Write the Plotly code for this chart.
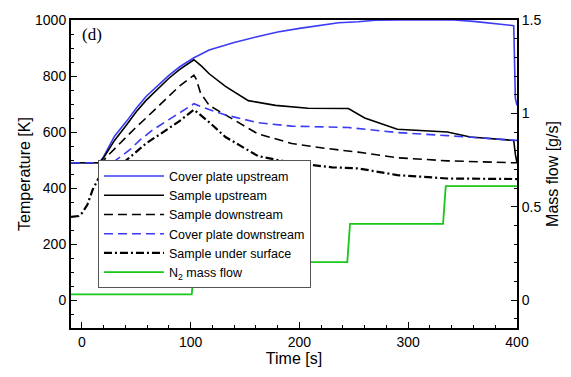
import plotly.graph_objects as go

# ---- data ----
t_cpu = [-10, 16, 20, 25, 30, 41, 50, 59, 70, 80, 90, 103, 117, 140, 162, 180, 200, 220, 236, 254, 270, 290, 342, 360, 380, 397, 398.5, 400]
T_cpu = [490, 490, 512, 550, 585, 638, 685, 727, 767, 802, 833, 865, 893, 920, 941, 957, 970, 982, 990, 994, 999, 1000, 1000, 995, 986, 980, 720, 695]

t_su = [-10, 16, 20, 25, 30, 41, 50, 59, 70, 80, 90, 103, 110, 117, 132, 153, 178, 208, 245, 260, 290, 336, 357, 382, 397, 398.5, 400]
T_su = [490, 490, 508, 540, 570, 625, 672, 713, 755, 792, 824, 858, 835, 808, 763, 712, 695, 685, 684, 650, 610, 600, 582, 576, 570, 520, 490]

t_sd = [-10, 18, 25, 30, 41, 50, 59, 70, 80, 90, 103, 105, 109, 117, 132, 162, 193, 223, 254, 290, 336, 382, 397, 400]
T_sd = [490, 490, 520, 540, 582, 618, 650, 690, 730, 765, 803, 790, 740, 695, 661, 593, 559, 542, 528, 508, 497, 490, 490, 490]

t_cpd = [-10, 28, 35, 45, 53, 65, 80, 92, 103, 117, 132, 162, 193, 245, 290, 336, 382, 397, 400]
T_cpd = [490, 490, 510, 540, 570, 607, 644, 675, 701, 680, 661, 633, 621, 616, 598, 587, 576, 572, 570]

t_sus = [-10, -3, 0, 5, 10, 15, 20, 25, 30, 38, 50, 60, 71, 80, 90, 103, 117, 132, 162, 193, 230, 254, 290, 336, 400]
T_sus = [297, 300, 310, 340, 395, 432, 450, 465, 478, 490, 530, 562, 590, 615, 640, 680, 635, 582, 514, 490, 474, 470, 446, 434, 432]

t_n2 = [-10, 101, 103.5, 244, 246.5, 332, 334.5, 400]
m_n2 = [0.03, 0.03, 0.203, 0.203, 0.408, 0.408, 0.61, 0.61]

BLUE = "#3b3bf5"
GREEN = "#19c819"

fig = go.Figure()
fig.add_trace(go.Scatter(x=t_cpu, y=T_cpu, mode="lines", name="Cover plate upstream",
                         line=dict(color=BLUE, width=1.6)))
fig.add_trace(go.Scatter(x=t_su, y=T_su, mode="lines", name="Sample upstream",
                         line=dict(color="black", width=1.6)))
fig.add_trace(go.Scatter(x=t_sd, y=T_sd, mode="lines", name="Sample downstream",
                         line=dict(color="black", width=1.6, dash="9px,5px")))
fig.add_trace(go.Scatter(x=t_cpd, y=T_cpd, mode="lines", name="Cover plate downstream",
                         line=dict(color=BLUE, width=1.6, dash="9px,5px")))
fig.add_trace(go.Scatter(x=t_sus, y=T_sus, mode="lines", name="Sample under surface",
                         line=dict(color="black", width=2.2, dash="8px,3px,2px,3px")))
fig.add_trace(go.Scatter(x=t_n2, y=m_n2, mode="lines", name="N<sub>2</sub> mass flow",
                         line=dict(color=GREEN, width=1.8), yaxis="y2"))

axfont = dict(family="Liberation Sans, Arial, sans-serif", size=14, color="black")

fig.update_layout(
    width=571, height=377,
    margin=dict(l=71, r=51, t=12, b=44),
    paper_bgcolor="white", plot_bgcolor="white",
    font=axfont,
    showlegend=True,
    legend=dict(x=0.06, y=0.545, xanchor="left", yanchor="top",
                bgcolor="white", bordercolor="#555555", borderwidth=1.2,
                font=dict(family="Liberation Sans, Arial, sans-serif", size=12.5, color="black"),
                tracegroupgap=0, itemwidth=60),
    xaxis=dict(range=[-10, 400], tickvals=[0, 100, 200, 300, 400],
               showline=True, linecolor="black", linewidth=2, mirror=True,
               ticks="inside", ticklen=6, tickwidth=1.2, tickcolor="black",
               minor=dict(dtick=20, tick0=0, ticks="inside", ticklen=3, tickcolor="black", tickwidth=1),
               showgrid=False, zeroline=False,
               title=dict(text="Time [s]", font=dict(size=16), standoff=4),
               tickfont=axfont),
    yaxis=dict(range=[-100, 1000], tickvals=[0, 200, 400, 600, 800, 1000],
               showline=True, linecolor="black", linewidth=2,
               ticks="inside", ticklen=6, tickwidth=1.2, tickcolor="black",
               minor=dict(dtick=50, tick0=0, ticks="inside", ticklen=3, tickcolor="black", tickwidth=1),
               showgrid=False, zeroline=False,
               title=dict(text="Temperature [K]", font=dict(size=16), standoff=0),
               tickfont=axfont),
    yaxis2=dict(range=[-0.15, 1.5], tickvals=[0, 0.5, 1, 1.5], ticktext=["0", "0.5", "1", "1.5"],
                overlaying="y", side="right",
                showline=True, linecolor="black", linewidth=2,
                ticks="inside", ticklen=6, tickwidth=1.2, tickcolor="black",
                minor=dict(dtick=0.1, tick0=0, ticks="inside", ticklen=3, tickcolor="black", tickwidth=1),
                showgrid=False, zeroline=False,
                title=dict(text="Mass flow [g/s]", font=dict(size=16), standoff=6),
                tickfont=axfont),
    annotations=[dict(text="(d)", x=0.02, y=0.99, xref="paper", yref="paper",
                      xanchor="left", yanchor="top", showarrow=False,
                      font=dict(family="Liberation Serif, Times New Roman, serif", size=17, color="black"))],
)

fig.write_html("out.html")
